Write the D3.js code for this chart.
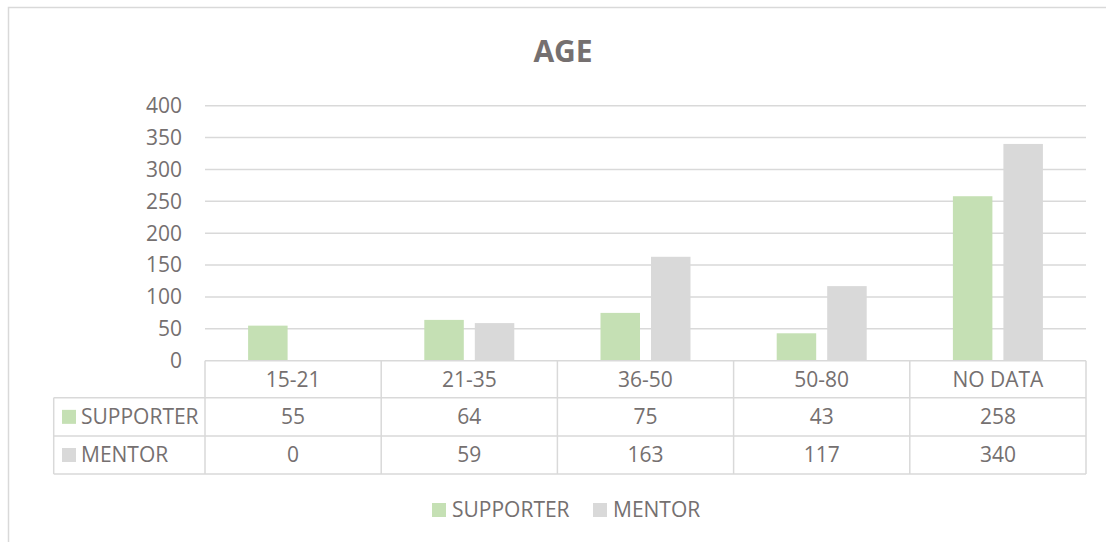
<!DOCTYPE html>
<html>
<head>
<meta charset="utf-8">
<script src="https://cdn.jsdelivr.net/npm/d3@7"></script>
<style>
    body { margin: 0; background: #fff; }
    svg text { font-family: "Open Sans", sans-serif; fill: #757070; }
</style>
</head>
<body>
<div id="chart"></div>
<script>
// data
const categories = ["15-21", "21-35", "36-50", "50-80", "NO DATA"];
const seriesNames = ["SUPPORTER", "MENTOR"];
const supporter = [55, 64, 75, 43, 258];
const mentor = [0, 59, 163, 117, 340];
const yTicks = [0, 50, 100, 150, 200, 250, 300, 350, 400];
const seriesColors = ["#c5e0b4", "#d9d9d9"];

const values = [supporter, mentor];
const width = 1106, height = 542;
const lineColor = "#d9d9d9";
const fontSize = "21px";

const svg = d3.select("#chart").append("svg")
    .attr("width", width)
    .attr("height", height);

// chart border (only top + left visible in the crop)
svg.append("path")
    .attr("d", `M8.5,${height} V7.5 H${width}`)
    .attr("fill", "none")
    .attr("stroke", lineColor)
    .attr("stroke-width", 1.5);

// title
svg.append("text")
    .attr("x", 563)
    .attr("y", 62)
    .attr("text-anchor", "middle")
    .style("font-size", "30px")
    .style("font-weight", "bold")
    .text("AGE");

const plot = {left: 205, right: 1086, top: 105.7, bottom: 360.7};

const x0 = d3.scaleBand()
    .domain(categories)
    .range([plot.left, plot.right])
    .padding(0);

const groupW = 90;
const x1 = d3.scaleBand()
    .domain(seriesNames)
    .range([(x0.bandwidth() - groupW) / 2, (x0.bandwidth() + groupW) / 2])
    .paddingInner(0.218)
    .paddingOuter(0);

const y = d3.scaleLinear()
    .domain([0, 400])
    .range([plot.bottom, plot.top]);

// gridlines
svg.append("g")
    .selectAll("line")
    .data(yTicks.filter(d => d > 0))
    .enter().append("line")
    .attr("x1", plot.left)
    .attr("x2", plot.right)
    .attr("y1", d => y(d))
    .attr("y2", d => y(d))
    .attr("stroke", lineColor)
    .attr("stroke-width", 1.5);

// y tick labels
svg.append("g")
    .selectAll("text")
    .data(yTicks)
    .enter().append("text")
    .attr("x", 182)
    .attr("y", d => y(d))
    .attr("dy", "0.35em")
    .attr("text-anchor", "end")
    .style("font-size", fontSize)
    .text(d => d);

// bars
const groups = svg.append("g")
    .selectAll("g")
    .data(categories)
    .enter().append("g")
    .attr("transform", d => `translate(${x0(d)},0)`);

groups.selectAll("rect")
    .data((c, i) => seriesNames.map((s, j) => ({series: s, value: values[j][i], idx: j})))
    .enter().append("rect")
    .attr("x", d => x1(d.series))
    .attr("width", x1.bandwidth())
    .attr("y", d => y(d.value))
    .attr("height", d => y(0) - y(d.value))
    .attr("fill", d => seriesColors[d.idx]);

// data table
const rowTops = [plot.bottom, 397.7, 436, 474];
const tableLeft = 53.7;
const table = svg.append("g")
    .attr("stroke", lineColor)
    .attr("stroke-width", 1.5)
    .attr("fill", "none");

// horizontal lines
table.append("line")
    .attr("x1", plot.left).attr("x2", plot.right)
    .attr("y1", rowTops[0]).attr("y2", rowTops[0]);
rowTops.slice(1).forEach(yy => {
    table.append("line")
        .attr("x1", tableLeft).attr("x2", plot.right)
        .attr("y1", yy).attr("y2", yy);
});

// vertical lines
table.append("line")
    .attr("x1", tableLeft).attr("x2", tableLeft)
    .attr("y1", rowTops[1]).attr("y2", rowTops[3]);
categories.forEach(c => {
    table.append("line")
        .attr("x1", x0(c)).attr("x2", x0(c))
        .attr("y1", rowTops[0]).attr("y2", rowTops[3]);
});
table.append("line")
    .attr("x1", plot.right).attr("x2", plot.right)
    .attr("y1", rowTops[0]).attr("y2", rowTops[3]);

// header row labels
svg.append("g")
    .selectAll("text")
    .data(categories)
    .enter().append("text")
    .attr("x", d => x0(d) + x0.bandwidth() / 2)
    .attr("y", (rowTops[0] + rowTops[1]) / 2)
    .attr("dy", "0.35em")
    .attr("text-anchor", "middle")
    .style("font-size", fontSize)
    .text(d => d);

// value rows
seriesNames.forEach((s, j) => {
    const cy = (rowTops[j + 1] + rowTops[j + 2]) / 2;
    svg.append("rect")
        .attr("x", 62)
        .attr("y", cy - 7)
        .attr("width", 14)
        .attr("height", 14)
        .attr("fill", seriesColors[j]);
    svg.append("text")
        .attr("x", 81)
        .attr("y", cy)
        .attr("dy", "0.35em")
        .style("font-size", fontSize)
        .text(s);
    svg.append("g")
        .selectAll("text")
        .data(values[j])
        .enter().append("text")
        .attr("x", (d, i) => x0(categories[i]) + x0.bandwidth() / 2)
        .attr("y", cy)
        .attr("dy", "0.35em")
        .attr("text-anchor", "middle")
        .style("font-size", fontSize)
        .text(d => d);
});

// bottom legend
const legendX = [432, 593];
const legend = svg.append("g");
seriesNames.forEach((s, j) => {
    legend.append("rect")
        .attr("x", legendX[j])
        .attr("y", 503)
        .attr("width", 14)
        .attr("height", 14)
        .attr("fill", seriesColors[j]);
    legend.append("text")
        .attr("x", legendX[j] + 20)
        .attr("y", 510)
        .attr("dy", "0.35em")
        .style("font-size", fontSize)
        .text(s);
});
</script>
</body>
</html>
